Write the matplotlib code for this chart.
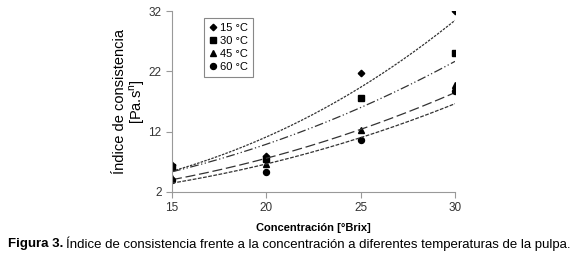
import numpy as np
import matplotlib
matplotlib.use('Agg')
import matplotlib.pyplot as plt

plt.rcParams['font.family'] = ['Liberation Sans', 'DejaVu Sans']

# --- DATOS ---
concentracion = [15, 20, 25, 30]
k_15 = [6.4, 8.0, 21.8, 32.0]
k_30 = [6.2, 7.4, 17.5, 25.0]
k_45 = [4.4, 6.6, 12.2, 19.8]
k_60 = [4.0, 5.3, 10.6, 18.8]
etiquetas = ['15 °C', '30 °C', '45 °C', '60 °C']

series = [k_15, k_30, k_45, k_60]
marcadores = ['D', 's', '^', 'o']
tamanos = [3.3, 4.3, 4.3, 4.3]
estilos = [(0, (2, 1)), (0, (7, 2, 1, 2, 1, 2)), (0, (8, 3)), (0, (3, 1.2))]

fig = plt.figure(figsize=(5.8, 2.59), dpi=100)
ax = fig.add_axes([0.2966, 0.2587, 0.4879, 0.6988])

x = np.array(concentracion, dtype=float)
x_fino = np.linspace(15, 30, 200)
for y, m, ms, ls, lab in zip(series, marcadores, tamanos, estilos, etiquetas):
    ax.plot(x, y, linestyle='none', marker=m, markersize=ms, color='black', label=lab)
    # linea de tendencia potencial (ajuste tipo Excel)
    b, ln_a = np.polyfit(np.log(x), np.log(y), 1)
    ax.plot(x_fino, np.exp(ln_a) * x_fino ** b, color='#333333',
            linewidth=0.9, linestyle=ls)

ax.set_xlim(15, 30)
ax.set_ylim(2, 32)
ax.set_xticks([15, 20, 25, 30])
ax.set_yticks([2, 12, 22, 32])
for s in ['top', 'right']:
    ax.spines[s].set_visible(False)
for s in ['left', 'bottom']:
    ax.spines[s].set_color('#999999')
    ax.spines[s].set_linewidth(0.8)
ax.tick_params(colors='#999999', labelcolor='#333333', labelsize=8.5, length=4, width=0.8)

ax.set_ylabel('Índice de consistencia\n[Pa.s$^\\mathregular{n}$]', fontsize=10.5, linespacing=1.05)
ax.yaxis.set_label_coords(-0.088, 0.5)
ax.set_xlabel('Concentración [°Brix]', fontsize=8, fontweight='bold', labelpad=6)

leg = ax.legend(loc='upper left', bbox_to_anchor=(0.095, 0.99), fontsize=8,
                handlelength=0.6, handletextpad=0.35, labelspacing=0.25,
                borderpad=0.45, fancybox=False, framealpha=1)
leg.get_frame().set_edgecolor('#888888')
leg.get_frame().set_linewidth(0.8)

# pie de figura: parte en negrita y resto normal, uno tras otro
t1 = fig.text(0.014, 0.058, 'Figura 3.', fontsize=9.5, fontweight='bold', va='center')
fig.canvas.draw()
bb = t1.get_window_extent(renderer=fig.canvas.get_renderer())
x_sig = (bb.x1 + 3) / fig.bbox.width
fig.text(x_sig, 0.058, 'Índice de consistencia frente a la concentración a diferentes '
         'temperaturas de la pulpa.', fontsize=9.5, va='center')

fig.savefig('out.png', dpi=100)
